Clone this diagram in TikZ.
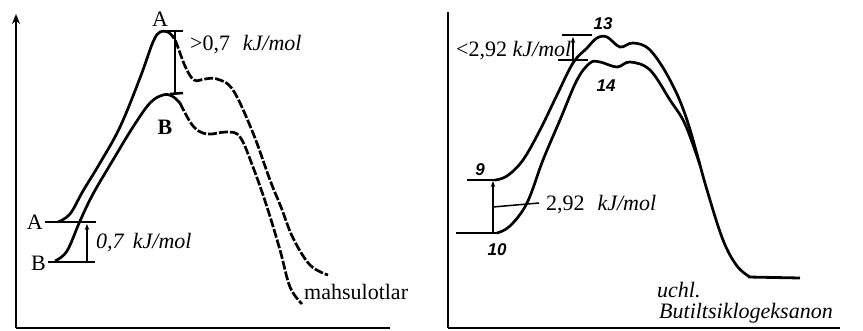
\documentclass[tikz,border=0pt]{standalone}
\usepackage{fontspec}
\setmainfont{Liberation Serif}
\newfontfamily\numfont{Liberation Sans}
\usetikzlibrary{arrows.meta}
\begin{document}
\begin{tikzpicture}[x=1pt,y=-1pt,
  axis/.style={line width=2pt},
  lvl/.style={line width=2.5pt},
  crv/.style={line width=2.7pt, smooth, tension=0.6},
  dsh/.style={dash pattern=on 9pt off 2pt},
  gap/.style={line width=1.5pt,-{Stealth[length=6pt,width=4.5pt]}},
  lab/.style={font=\fontsize{22}{26}\selectfont, inner sep=0pt},
  num/.style={font=\numfont\bfseries\itshape\fontsize{17}{20}\selectfont, inner sep=0pt}]
\useasboundingbox (0,0) rectangle (863,331);
% ---------- left panel ----------
\coordinate (lo) at (16,328);
\coordinate (ltop) at (16,14);
\coordinate (lend) at (390,328);
\draw[axis,-{Stealth[length=10pt,width=8pt]}] (lo) -- (ltop);
\draw[axis] (lo) -- (lend);
% levels
\coordinate (aL) at (45,222); \coordinate (aR) at (96,222);
\coordinate (bL) at (48,262); \coordinate (bR) at (95,262);
\draw[lvl] (aL) -- (aR);
\draw[lvl] (bL) -- (bR);
\coordinate (arB) at (87,262); \coordinate (arA) at (87,224);
\draw[gap] (arB) -- (arA);
% curve A
\draw[crv] plot coordinates {(58,222) (70,214) (83,191) (100,163) (120,127) (140,78) (153,42) (160,32) (168,32)};
\draw[crv,dsh] plot coordinates {(168,32) (175,40) (185,66) (194,80) (205,79) (217,79) (233,90) (253,133) (270,180) (281,207) (293,238) (310,265) (328,275)};
% curve B
\draw[crv] plot coordinates {(55,261) (67,251) (80,221) (93,194) (113,160) (133,127) (150,103) (163,95) (172,96) (180,103)};
\draw[crv,dsh] plot coordinates {(180,103) (193,126) (207,134) (227,132) (240,137) (253,167) (267,207) (280,250) (290,287) (302,304)};
% top gap
\coordinate (tA1) at (167,31); \coordinate (tA2) at (183,31);
\coordinate (tA) at (175,31); \coordinate (tB) at (175,93);
\coordinate (tB1) at (170,94); \coordinate (tB2) at (183,93);
\draw[lvl] (tA1) -- (tA2);
\draw[line width=1.7pt] (tA) -- (tB);
\draw[lvl] (tB1) -- (tB2);
% labels
\node[lab] (lA1) at (160,19) {A};
\node[lab,font=\bfseries\fontsize{22}{26}\selectfont] (lB1) at (165,127) {B};
\node[lab,anchor=east] (lA2) at (43,222) {A};
\node[lab,anchor=east] (lB2) at (46,263) {B};
\node[lab,anchor=west] (g1) at (190,45) {>0,7\,\, \textit{kJ/mol}};
\node[lab,anchor=west] (g2) at (96,243) {\textit{0,7\, kJ/mol}};
\node[lab,anchor=west] (prod) at (304,292) {mahsulotlar};
% ---------- right panel ----------
\coordinate (ro) at (448,328);
\coordinate (rtop) at (448,12);
\coordinate (rend) at (840,328);
\draw[axis] (ro) -- (rtop);
\draw[axis] (ro) -- (rend);
\coordinate (l9L) at (467,180); \coordinate (l9R) at (496,180);
\coordinate (l10L) at (456,233); \coordinate (l10R) at (498,233);
\draw[lvl] (l9L) -- (l9R);
\draw[lvl] (l10L) -- (l10R);
\coordinate (a10) at (493,233); \coordinate (a9) at (493,181);
\draw[gap] (a10) -- (a9);
\coordinate (ldA) at (493,207); \coordinate (ldB) at (539,203);
\draw[line width=1.5pt] (ldA) -- (ldB);
% upper curve (9 -> 13)
\draw[crv] plot coordinates {(495,180) (507,176) (523,160) (540,130) (557,95) (573,63) (587,48) (597,38) (607,37) (620,47) (633,43) (650,50) (670,80) (687,120) (707,190) (723,240) (737,266) (750,277)};
% lower curve (10 -> 14)
\draw[crv] plot coordinates {(497,233) (510,226) (527,203) (543,160) (560,120) (577,80) (590,63) (600,62) (617,67) (630,62) (650,70) (670,100) (685,124) (700,165)};
\coordinate (pL) at (748,277); \coordinate (pR) at (800,278);
\draw[lvl,line width=2.8pt] (pL) -- (pR);
% top gap
\coordinate (u1) at (562,35); \coordinate (u2) at (592,35);
\coordinate (v1) at (558,60); \coordinate (v2) at (588,60);
\draw[lvl] (u1) -- (u2);
\draw[lvl] (v1) -- (v2);
\coordinate (wB) at (573,60); \coordinate (wA) at (573,37);
\draw[gap] (wB) -- (wA);
% labels
\node[lab,anchor=west] (g3) at (456,51) {<2,92 \textit{kJ/mol}};
\node[lab,anchor=west] (g4) at (546,205) {2,92\,\, \textit{kJ/mol}};
\node[num] (n13) at (603,24) {13};
\node[num] (n14) at (606,86) {14};
\node[num] (n9) at (480,170) {9};
\node[num] (n10) at (497,250) {10};
\node[lab,anchor=west] (u) at (657,290) {\textit{uchl.}};
\node[lab,anchor=west] (bt) at (659,313) {\textit{Butiltsiklogeksanon}};
\end{tikzpicture}
\end{document}
